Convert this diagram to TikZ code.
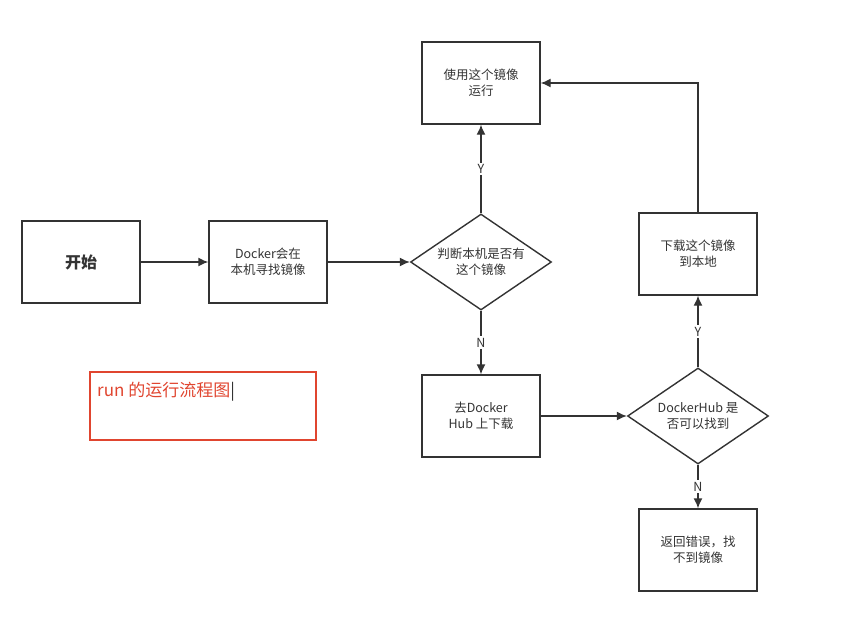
\documentclass[tikz,border=0pt]{standalone}
\usepackage{fontspec}
\setmainfont{Noto Sans CJK SC}
\usetikzlibrary{shapes.geometric,arrows.meta}
\definecolor{ln}{HTML}{333333}
\definecolor{rd}{HTML}{E0452F}
\begin{document}
\begin{tikzpicture}[x=1pt,y=-1pt,
  box/.style={draw=ln,line width=1.4pt,minimum width=118pt,minimum height=82pt,align=center,font=\fontsize{12.5}{16}\selectfont,text=ln},
  dia/.style={draw=ln,line width=1.4pt,diamond,aspect=1.47,minimum width=141pt,minimum height=96pt,inner sep=0pt,align=center,font=\fontsize{12.5}{16}\selectfont,text=ln},
  arr/.style={draw=ln,line width=1.4pt,-{Latex[length=10pt,width=9pt]}},
  lab/.style={fill=white,font=\fontsize{12.5}{14}\selectfont,text=ln,inner sep=1.5pt}]
\useasboundingbox (0,0) rectangle (851,616);
\node[box,font=\fontsize{16}{18}\selectfont\bfseries] (start) at (81,262) {开始};
\node[box] (find) at (268,262) {Docker会在\\本机寻找镜像};
\node[dia] (d1) at (481,262) {判断本机是否有\\这个镜像};
\node[box] (use) at (481,83) {使用这个镜像\\运行};
\node[box] (hub) at (481,416) {去Docker\\Hub 上下载};
\node[dia] (d2) at (698,416) {DockerHub 是\\否可以找到};
\node[box] (dl) at (698,254) {下载这个镜像\\到本地};
\node[box] (err) at (698,550) {返回错误，找\\不到镜像};
\node[draw=rd,line width=1.2pt,minimum width=226pt,minimum height=68pt] (note) at (203,406) {};
\node[anchor=west,text=rd,font=\fontsize{17}{20}\selectfont,inner sep=0pt] (notet) at (97,392) {run 的运行流程图\textcolor{ln}{|}};
\draw[arr] (start) -- (find);
\draw[arr] (find) -- (d1);
\draw[arr] (d1) -- node[lab,pos=0.5] {Y} (use);
\draw[arr] (d1) -- node[lab,pos=0.5] {N} (hub);
\draw[arr] (hub.east) -- (d2.west);
\draw[arr] (d2) -- node[lab,pos=0.5] {Y} (dl);
\draw[arr] (d2) -- node[lab,pos=0.5] {N} (err);
\draw[arr] (dl.north) |- (use.east);
\end{tikzpicture}
\end{document}
